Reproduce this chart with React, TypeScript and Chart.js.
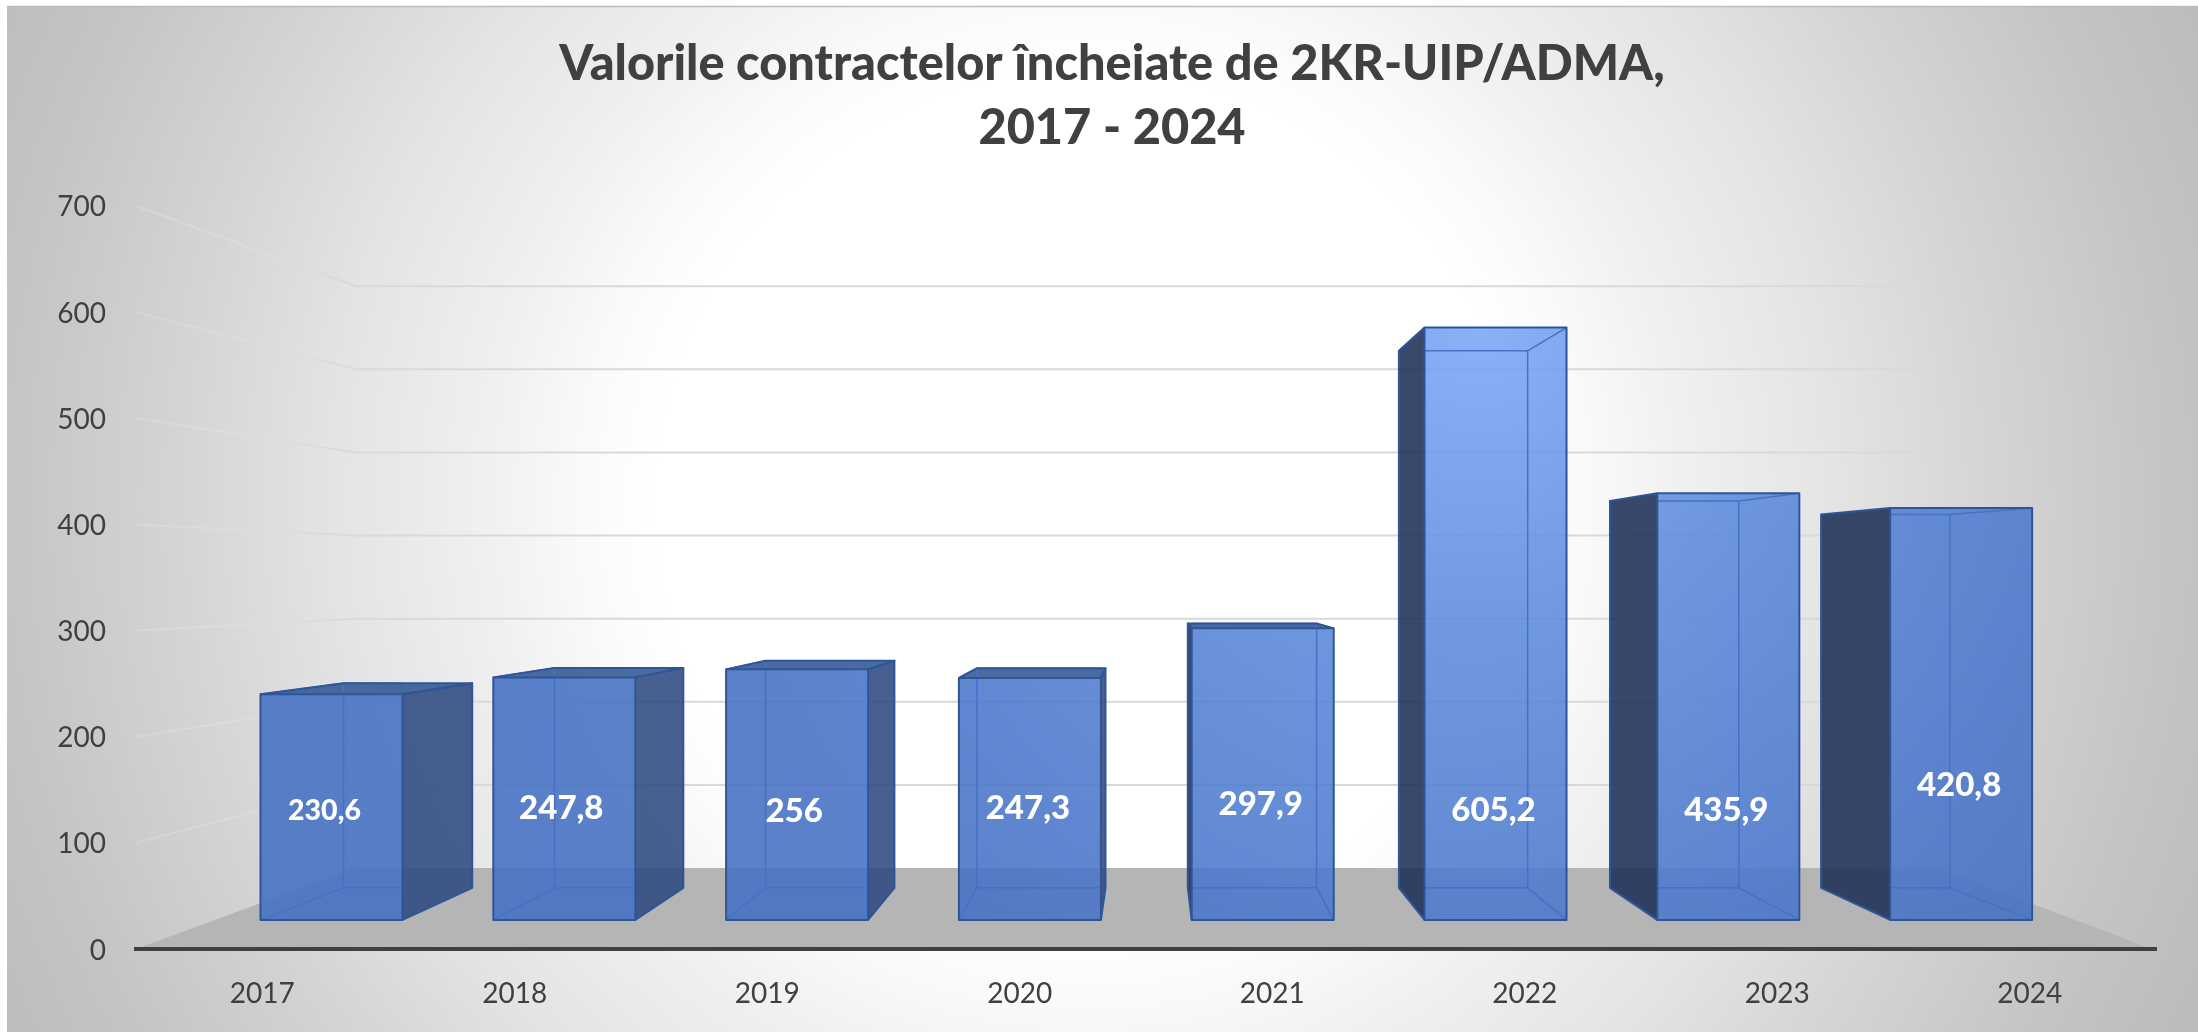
import React, { useEffect, useRef } from "react";
import { Chart, registerables } from "chart.js";

Chart.register(...registerables);

const categories = ["2017", "2018", "2019", "2020", "2021", "2022", "2023", "2024"];
const contractValues = [230.6, 247.8, 256, 247.3, 297.9, 605.2, 435.9, 420.8];
const valueLabels = ["230,6", "247,8", "256", "247,3", "297,9", "605,2", "435,9", "420,8"];
const titleLines = ["Valorile contractelor încheiate de 2KR-UIP/ADMA,", "2017 - 2024"];

// Perspective of the 3-D box: vanishing point and the scale of each depth plane.
const VP_X = 1150;
const VP_Y = 576;
const FLOOR_BACK = 0.783;
const BAR_FRONT = 0.922;
const BAR_BACK = 0.836;

const LABEL_FONT_PX = [28.5, 33, 33, 33, 33, 33, 33, 33];
const LABEL_Y = [811, 808, 811, 808, 804, 810, 810, 785];
const LABEL_DX = [-7, -3, -3, -2, -2, -2, -2, -2];
const TITLE_CENTER_X = 1112;

const project = (x: number, y: number, s: number) => ({
  x: VP_X + (x - VP_X) * s,
  y: VP_Y + (y - VP_Y) * s,
});

const poly = (ctx: CanvasRenderingContext2D, pts: { x: number; y: number }[]) => {
  ctx.beginPath();
  pts.forEach((p, i) => (i ? ctx.lineTo(p.x, p.y) : ctx.moveTo(p.x, p.y)));
  ctx.closePath();
};

const scene = {
  id: "scene",
  afterLayout(chart: any) {
    const t = chart.titleBlock;
    const d = TITLE_CENTER_X - (t.left + t.right) / 2;
    t.left += d;
    t.right += d;
  },
  beforeDraw(chart: any) {
    const { ctx, width, height, chartArea, scales } = chart;
    ctx.save();
    ctx.fillStyle = "#ffffff";
    ctx.fillRect(0, 0, width, height);
    // background
    ctx.save();
    ctx.beginPath();
    ctx.rect(7, 6, width - 7, height - 6);
    ctx.clip();
    const R = 1300;
    const g = ctx.createRadialGradient(1085, 500, 0, 1085, 500, R);
    const stop = (r: number, c: string) => g.addColorStop(r / R, c);
    stop(0, "#ffffff");
    stop(430, "#ffffff");
    stop(500, "#fafafa");
    stop(600, "#f0f0f0");
    stop(750, "#e4e4e4");
    stop(900, "#d5d5d5");
    stop(1090, "#c4c4c4");
    stop(1220, "#bcbcbc");
    stop(1300, "#b8b8b8");
    ctx.fillStyle = g;
    ctx.fillRect(0, 0, width, height);
    ctx.restore();
    ctx.strokeStyle = "#bcbcbc";
    ctx.lineWidth = 1.5;
    ctx.beginPath();
    ctx.moveTo(7, 6.5);
    ctx.lineTo(width, 6.5);
    ctx.stroke();

    // floor
    const y = scales.y;
    const { left, right } = chartArea;
    const y0 = y.getPixelForValue(0);
    const fl = project(left, y0, FLOOR_BACK);
    const fr = project(right, y0, FLOOR_BACK);
    ctx.fillStyle = "#b5b5b5";
    poly(ctx, [{ x: left, y: y0 }, fl, fr, { x: right - 4, y: y0 }]);
    ctx.fill();

    // gridlines: side wall (fading towards the front) + back wall
    ctx.lineWidth = 2;
    y.ticks.forEach((t: any) => {
      if (t.value === 0) return;
      const py = y.getPixelForValue(t.value);
      const a = project(left, py, FLOOR_BACK);
      const b = project(right, py, FLOOR_BACK);
      const fade = ctx.createLinearGradient(left, 0, a.x, 0);
      fade.addColorStop(0, "rgba(228,228,228,0.3)");
      fade.addColorStop(1, "rgba(217,217,217,1)");
      ctx.strokeStyle = fade;
      ctx.beginPath();
      ctx.moveTo(left, py);
      ctx.lineTo(a.x, a.y);
      ctx.stroke();
      ctx.strokeStyle = "#d9d9d9";
      ctx.beginPath();
      ctx.moveTo(a.x, a.y);
      ctx.lineTo(b.x, b.y);
      ctx.stroke();
    });
    ctx.restore();
  },
  afterDatasetsDraw(chart: any) {
    const { ctx, height } = chart;
    const meta = chart.getDatasetMeta(0);
    const light = ctx.createRadialGradient(1480, 330, 0, 1480, 330, 800);
    light.addColorStop(0, "#7AA7F7");
    light.addColorStop(0.37, "#5C8BDC");
    light.addColorStop(0.8, "#4A76CA");
    light.addColorStop(1, "#4470C2");
    ctx.save();
    meta.data.forEach((bar: any, i: number) => {
      const x0 = bar.x - bar.width / 2;
      const x1 = bar.x + bar.width / 2;
      const top = bar.y;
      const base = bar.base;
      const F = {
        tl: project(x0, top, BAR_FRONT),
        tr: project(x1, top, BAR_FRONT),
        bl: project(x0, base, BAR_FRONT),
        br: project(x1, base, BAR_FRONT),
      };
      const B = {
        tl: project(x0, top, BAR_BACK),
        tr: project(x1, top, BAR_BACK),
        bl: project(x0, base, BAR_BACK),
        br: project(x1, base, BAR_BACK),
      };
      const seenFromAbove = B.tl.y < F.tl.y;
      ctx.lineJoin = "round";
      ctx.globalAlpha = 0.88;
      // outer side face
      if (B.tl.x < F.tl.x) {
        ctx.fillStyle = "#1E3057";
        poly(ctx, [F.tl, B.tl, B.bl, F.bl]);
        ctx.fill();
      }
      if (B.tr.x > F.tr.x) {
        ctx.fillStyle = "#2D4A80";
        poly(ctx, [F.tr, B.tr, B.br, F.br]);
        ctx.fill();
      }
      // top face (seen from below it only shows outside the front face)
      if (seenFromAbove) {
        ctx.fillStyle = "#315693";
        poly(ctx, [F.tl, F.tr, B.tr, B.tl]);
        ctx.fill();
      }
      // front face
      ctx.fillStyle = light;
      poly(ctx, [F.tl, F.tr, F.br, F.bl]);
      ctx.fill();
      ctx.globalAlpha = 1;
      // inner edges, seen through the front face
      ctx.save();
      ctx.beginPath();
      ctx.rect(F.tl.x, 0, F.tr.x - F.tl.x, height);
      ctx.clip();
      ctx.strokeStyle = "#4472C4";
      ctx.lineWidth = 1.5;
      poly(ctx, [B.tl, B.tr, B.br, B.bl]);
      ctx.stroke();
      (["tl", "tr", "bl", "br"] as const).forEach((k) => {
        ctx.beginPath();
        ctx.moveTo(F[k].x, F[k].y);
        ctx.lineTo(B[k].x, B[k].y);
        ctx.stroke();
      });
      ctx.restore();
      // silhouette edges
      ctx.strokeStyle = "#2F5597";
      ctx.lineWidth = 2;
      poly(ctx, [F.tl, F.tr, F.br, F.bl]);
      ctx.stroke();
      const outer: { x: number; y: number }[][] = [];
      if (B.tl.x < F.tl.x) outer.push([F.tl, B.tl, B.bl, F.bl]);
      if (B.tr.x > F.tr.x) outer.push([F.tr, B.tr, B.br, F.br]);
      if (seenFromAbove) outer.push([F.tl, B.tl, B.tr, F.tr]);
      outer.forEach((pts) => {
        ctx.beginPath();
        pts.forEach((p, n) => (n ? ctx.lineTo(p.x, p.y) : ctx.moveTo(p.x, p.y)));
        ctx.stroke();
      });
      // value label
      const cx = (F.tl.x + F.tr.x) / 2 + LABEL_DX[i];
      ctx.fillStyle = "#ffffff";
      ctx.font = `900 ${LABEL_FONT_PX[i]}px Lato`;
      ctx.textAlign = "center";
      ctx.textBaseline = "middle";
      ctx.fillText(valueLabels[i], cx, LABEL_Y[i]);
    });
    ctx.restore();
  },
};

export default function App() {
  const ref = useRef<HTMLCanvasElement>(null);
  useEffect(() => {
    document.body.style.margin = "0";
    document.documentElement.style.overflow = "hidden";
    const chart = new Chart(ref.current!, {
      type: "bar",
      data: {
        labels: categories,
        datasets: [
          {
            label: "Valori",
            data: contractValues,
            backgroundColor: "rgba(0,0,0,0)",
            borderWidth: 0,
            barPercentage: 0.61,
            categoryPercentage: 1,
          },
        ],
      },
      plugins: [scene],
      options: {
        animation: false,
        responsive: false,
        layout: { padding: { left: 20, right: 42, top: 0, bottom: 0 } },
        plugins: {
          legend: { display: false },
          tooltip: { enabled: false },
          title: {
            display: true,
            text: titleLines,
            color: "#404040",
            font: { family: "Lato", size: 48.7, weight: "900", lineHeight: 1.324 },
            padding: { top: 32, bottom: 45 },
          },
        },
        scales: {
          x: {
            grid: { display: false },
            border: { display: true, color: "#404040", width: 4 },
            ticks: { color: "#404040", font: { family: "Lato", size: 28 }, padding: 20, maxRotation: 0 },
            afterFit: (s: any) => {
              s.height = 83;
            },
          },
          y: {
            min: 0,
            max: 700,
            grid: { display: false },
            border: { display: false },
            ticks: {
              stepSize: 100,
              color: "#404040",
              font: { family: "Lato", size: 28 },
              padding: 22,
              labelOffset: 1.5,
            },
            afterFit: (s: any) => {
              s.width = 116;
            },
          },
        },
      },
    } as any);
    return () => chart.destroy();
  }, []);
  return <canvas ref={ref} width={2198} height={1032} style={{ display: "block", width: 2198, height: 1032 }} />;
}
